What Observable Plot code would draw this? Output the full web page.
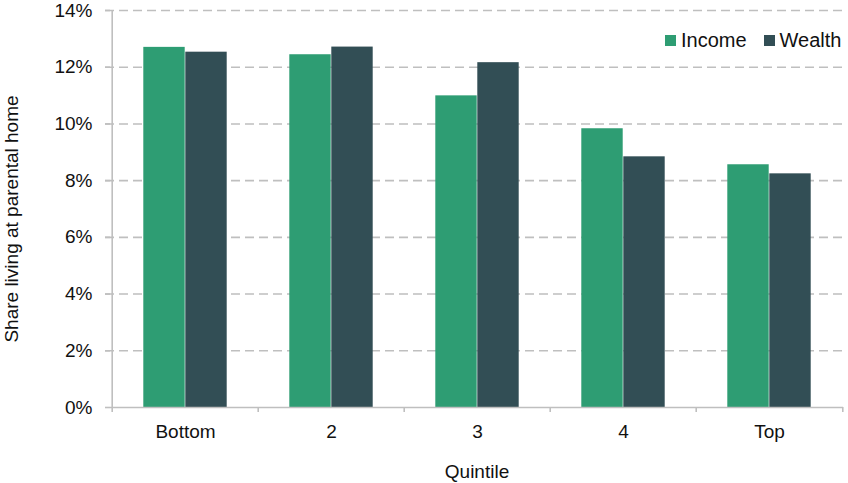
<!DOCTYPE html>
<html>
<head>
<meta charset="utf-8">
<script src="https://cdn.jsdelivr.net/npm/d3@7"></script>
<script src="https://cdn.jsdelivr.net/npm/@observablehq/plot@0.6"></script>
<style>
  html, body { margin: 0; padding: 0; background: #fff; }
  #wrap { position: relative; width: 848px; height: 483px; font-family: "Liberation Sans", Arial, sans-serif; }
  #legend { position: absolute; top: 29px; left: 665px; display: flex; align-items: center; font-size: 20px; color: #111; }
  .sw { display: inline-block; width: 11px; height: 11px; margin-right: 5px; }
  .item { display: flex; align-items: center; margin-right: 17px; }
</style>
</head>
<body>
<div id="wrap"><div id="legend"></div></div>
<script>
const quintiles = ["Bottom", "2", "3", "4", "Top"];
const income = [12.7, 12.44, 10.99, 9.83, 8.56];
const wealth = [12.53, 12.71, 12.16, 8.84, 8.24];
const seriesNames = ["Income", "Wealth"];
const colors = ["#2e9d73", "#324e55"];
const yTicks = [0, 2, 4, 6, 8, 10, 12, 14];
const yTitle = "Share living at parental home";

const data = quintiles.flatMap((q, i) => [
  {quintile: q, series: "Income", value: income[i]},
  {quintile: q, series: "Wealth", value: wealth[i]}
]);

const W = 848, H = 483, mL = 110, mR = 5, mT = 10, mB = 76;
const bw = (W - mL - mR) / quintiles.length;
const barW = 42;
const outer = (bw - 2 * barW) / 2;

const fontFamily = '"Liberation Sans", Arial, sans-serif';

const chart = Plot.plot({
  width: W, height: H,
  marginLeft: mL, marginRight: mR, marginTop: mT, marginBottom: mB,
  style: {fontFamily, fontSize: "19px", color: "#111", background: "white"},
  x: {domain: quintiles, padding: 0},
  y: {domain: [0, 14]},
  color: {domain: seriesNames, range: colors},
  marks: [
    Plot.gridY(yTicks.filter(d => d > 0), {stroke: "#bfbfbf", strokeOpacity: 1, strokeWidth: 1.6, strokeDasharray: "9,5", insetLeft: -5}),
    Plot.barY(data.filter(d => d.series === "Income"), {x: "quintile", y: "value", fill: "series", insetLeft: outer, insetRight: outer + barW}),
    Plot.barY(data.filter(d => d.series === "Wealth"), {x: "quintile", y: "value", fill: "series", insetLeft: outer + barW, insetRight: outer}),
    Plot.ruleY([0], {stroke: "#bfbfbf", strokeWidth: 1.6}),
    Plot.ruleX([0], {x: () => quintiles[0], dx: -bw / 2, stroke: "#bfbfbf", strokeWidth: 1.6}),
    Plot.axisY({ticks: yTicks, tickFormat: d => d + "%", tickSize: 5, tickPadding: 13, stroke: "#bfbfbf", strokeWidth: 1.6,
      label: null, fontSize: 19}),
    Plot.text([yTitle], {text: d => d, frameAnchor: "left", textAnchor: "middle", rotate: -90, dx: -99, dy: 10, fontSize: 19, fill: "#111"}),
    Plot.axisX({tickSize: 0, tickPadding: 17, label: "Quintile", labelAnchor: "center", labelArrow: "none", labelOffset: 70, fontSize: 19}),
    Plot.axisX({tickSize: 5, tickFormat: () => "", dx: -bw / 2, stroke: "#bfbfbf", strokeWidth: 1.6, label: null}),
    Plot.axisX({ticks: [quintiles[quintiles.length - 1]], tickSize: 5, tickFormat: () => "", dx: bw / 2, stroke: "#bfbfbf", strokeWidth: 1.6, label: null})
  ]
});

const wrap = document.getElementById("wrap");
wrap.insertBefore(chart, wrap.firstChild);

const legend = document.getElementById("legend");
seriesNames.forEach((s, i) => {
  const it = document.createElement("div");
  it.className = "item";
  const sw = document.createElement("span");
  sw.className = "sw";
  sw.style.background = colors[i];
  it.appendChild(sw);
  it.appendChild(document.createTextNode(s));
  legend.appendChild(it);
});
</script>
</body>
</html>
